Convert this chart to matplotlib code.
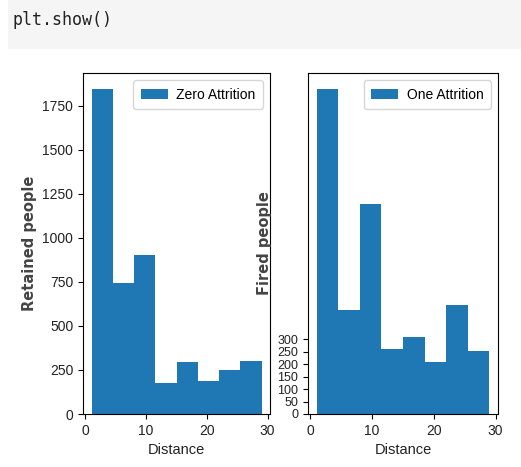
import numpy as np
import matplotlib.pyplot as plt
from matplotlib.patches import Rectangle

# histogram bins (distance) and counts
edges = [1, 4.5, 8, 11.5, 15, 18.5, 22, 25.5, 29]
zero_counts = [1845, 745, 905, 178, 295, 190, 250, 302]
one_counts = [1300, 416, 840, 260, 308, 208, 436, 252]
one_yticks = [0, 50, 100, 150, 200, 250, 300]

narrow = ['Liberation Sans', 'DejaVu Sans']
W, H = 521, 467

fig = plt.figure(figsize=(W / 100, H / 100), dpi=100)

# notebook code cell above the figure
fig.patches.append(Rectangle((8 / W, 1 - 49 / H), 1 - 8 / W, 49 / H,
                             transform=fig.transFigure, facecolor='#f5f5f5',
                             edgecolor='none'))
fig.text(13 / W, 1 - 20 / H, 'plt.show()', family='DejaVu Sans Mono',
         fontsize=12, va='center', ha='left', color='#222222')

centers = [(a + b) / 2 for a, b in zip(edges[:-1], edges[1:])]

ax1 = fig.add_axes([83 / W, 53 / H, 187 / W, 341 / H])
ax2 = fig.add_axes([308 / W, 53 / H, 190 / W, 341 / H])

ax1.hist(centers, bins=edges, weights=zero_counts, color='#1f77b4', label='Zero Attrition')
ax2.hist(centers, bins=edges, weights=one_counts, color='#1f77b4', label='One Attrition')
ax2.set_yticks(one_yticks)

for ax, lab in ((ax1, 'Retained people'), (ax2, 'Fired people')):
    ax.set_xticks([0, 10, 20, 30])
    ax.set_xlabel('Distance', family=narrow, fontsize=10.5, color='#222222')
    ax.set_ylabel(lab, fontsize=10.5, fontweight='bold', color='#444444')
    for t in ax.get_xticklabels() + ax.get_yticklabels():
        t.set_family(narrow)
        t.set_fontsize(10)
        t.set_color('#222222')
    leg = ax.legend(loc='upper right', prop={'family': narrow, 'size': 10},
                    borderpad=0.55, handlelength=1.95, handletextpad=0.6)

# crowded ticks on the right plot
for t in ax2.get_yticklabels():
    t.set_fontsize(9)

fig.savefig('out.png', dpi=100)
